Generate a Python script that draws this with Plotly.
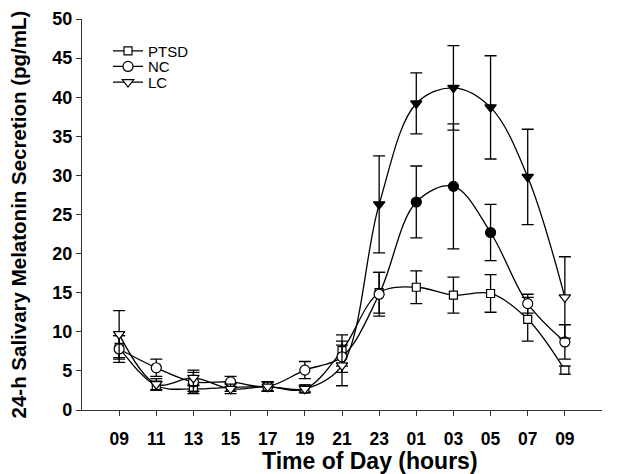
import plotly.graph_objects as go

# ---- data ----
hour_labels = ["09", "11", "13", "15", "17", "19", "21", "23", "01", "03", "05", "07", "09"]
positions = list(range(len(hour_labels)))

ptsd = [8.0, 3.1, 2.7, 2.9, 3.0, 2.7, 7.6, 15.0, 15.7, 14.7, 14.9, 11.6, 5.1]
ptsd_err = [1.5, 0.6, 0.6, 0.5, 0.6, 0.4, 2.0, 2.6, 2.1, 2.3, 2.4, 2.8, 0.5]

nc = [7.8, 5.4, 3.6, 3.6, 3.0, 5.1, 6.8, 14.8, 26.6, 28.6, 22.7, 13.6, 8.7]
nc_err = [1.7, 1.1, 1.2, 0.7, 0.6, 1.1, 2.0, 2.8, 4.6, 8.0, 3.6, 1.2, 2.2]
nc_filled = [False, False, False, False, False, False, False, False, True, True, True, False, False]

lc = [9.7, 3.3, 4.1, 2.7, 3.0, 2.7, 5.7, 26.3, 39.2, 41.2, 38.7, 29.8, 14.4]
lc_err = [3.0, 0.7, 1.0, 0.6, 0.6, 0.5, 2.6, 6.2, 3.9, 5.4, 6.6, 6.1, 5.2]
lc_filled = [False, False, False, False, False, False, False, True, True, True, True, True, False]

y_ticks = [0, 5, 10, 15, 20, 25, 30, 35, 40, 45, 50]

FONT = "Arial, 'Liberation Sans', sans-serif"
INK = "black"


def fills(flags):
    return [INK if f else "white" for f in flags]


fig = go.Figure()

series = [
    ("PTSD", ptsd, ptsd_err, [False] * len(ptsd), "square", 8, "legend"),
    ("NC", nc, nc_err, nc_filled, "circle", 10, "legend2"),
    ("LC", lc, lc_err, lc_filled, "triangle-down", 10, "legend3"),
]

for name, vals, errs, filled, symbol, size, leg in series:
    fig.add_trace(go.Scatter(
        x=positions, y=vals, name=name, legend=leg,
        mode="lines+markers",
        line=dict(color=INK, width=1.3, shape="spline", smoothing=1.0),
        marker=dict(symbol=symbol, size=size, color=fills(filled),
                    line=dict(color=INK, width=1.2)),
        error_y=dict(type="data", array=errs, visible=True,
                     color=INK, thickness=1.3, width=6),
    ))

leg_common = dict(xanchor="left", yanchor="middle", bgcolor="rgba(0,0,0,0)",
                  font=dict(size=15, family=FONT), itemwidth=30)
fig.update_layout(
    width=642, height=474,
    margin=dict(l=74, r=48, t=11, b=72, autoexpand=False),
    paper_bgcolor="white", plot_bgcolor="white",
    font=dict(family=FONT, color=INK),
    showlegend=True,
    legend=dict(x=0.05, y=0.918, **leg_common),
    legend2=dict(x=0.05, y=0.878, **leg_common),
    legend3=dict(x=0.05, y=0.838, **leg_common),
    xaxis=dict(
        range=[-1, 13], tickmode="array", tickvals=positions, ticktext=hour_labels,
        showgrid=False, zeroline=False, showline=True, linecolor="#333", linewidth=1.3,
        ticks="outside", ticklen=5, tickwidth=1.3, tickcolor="#333",
        ticklabelstandoff=8, ticklabeloverflow="allow", automargin=False,
        tickfont=dict(size=17.5, weight="bold", family=FONT),
    ),
    yaxis=dict(
        range=[0, 50], tickmode="array", tickvals=y_ticks,
        showgrid=False, zeroline=False, showline=True, linecolor="#333", linewidth=1.3,
        ticks="outside", ticklen=5, tickwidth=1.3, tickcolor="#333",
        ticklabeloverflow="allow", automargin=False,
        tickfont=dict(size=18, weight="bold", family=FONT),
    ),
    annotations=[
        dict(text="Time of Day (hours)", xref="paper", yref="paper",
             x=0.553, y=0, xanchor="center", yanchor="bottom", yshift=-66,
             showarrow=False, font=dict(size=23, weight="bold", family=FONT, color=INK)),
        dict(text="24-h Salivary Melatonin Secretion (pg/mL)", xref="paper", yref="paper",
             x=0, y=0.5, xanchor="center", yanchor="middle", xshift=-64, yshift=0,
             textangle=-90, showarrow=False,
             font=dict(size=20.5, weight="bold", family=FONT, color=INK)),
    ],
)

fig.write_html("out.html")
